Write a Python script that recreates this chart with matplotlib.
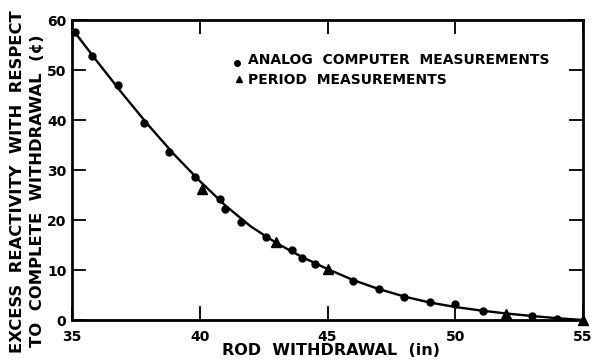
import matplotlib
matplotlib.use("Agg")
import matplotlib.pyplot as plt

# Analog computer measurements (dots)
analog_x = [35.1, 35.8, 36.8, 37.8, 38.8, 39.8, 40.8, 41.0, 41.6, 42.6, 43.6, 44.0,
            44.5, 46.0, 47.0, 48.0, 49.0, 50.0, 51.1, 53.0, 54.0]
analog_y = [57.6, 52.9, 47.1, 39.5, 33.7, 28.7, 24.3, 22.3, 19.7, 16.7, 14.1, 12.5,
            11.2, 7.9, 6.3, 4.7, 3.7, 3.3, 1.9, 0.9, 0.3]

# Period measurements (triangles)
period_x = [40.1, 43.0, 45.0, 52.0, 55.0]
period_y = [26.3, 15.7, 10.2, 1.3, 0.0]

# Fitted curve
curve_x = [35.1, 36, 37, 38, 39, 40, 41, 42, 43, 44, 45, 46, 47, 48, 49, 50, 51, 52, 53, 54, 55]
curve_y = [57.6, 51.6, 45.1, 38.9, 33.1, 27.8, 22.9, 18.7, 15.4, 12.6, 10.2, 8.0, 6.2,
           4.7, 3.5, 2.6, 1.9, 1.3, 0.8, 0.35, 0.0]

xticks = [35, 40, 45, 50, 55]
yticks = [0, 10, 20, 30, 40, 50, 60]

fig = plt.figure(figsize=(5.92, 3.61), dpi=100)
ax = fig.add_axes([72/592, 1-320/361, (583-72)/592, 300/361])

ax.plot(curve_x, curve_y, color="black", lw=1.7, zorder=2)
ax.plot(analog_x, analog_y, "o", color="black", ms=5, zorder=3)
ax.plot(period_x, period_y, "^", color="black", ms=6.5, zorder=3, clip_on=False)

ax.set_xlim(35, 55)
ax.set_ylim(0, 60)
ax.set_xticks(xticks)
ax.set_yticks(yticks)
ax.set_xticklabels([str(t) for t in xticks], fontsize=10, fontweight="bold")
ax.set_yticklabels([str(t) for t in yticks], fontsize=10, fontweight="bold")
ax.tick_params(axis="both", direction="in", length=10, width=1.3, top=True, right=True)
ax.tick_params(axis="x", pad=7)
ax.tick_params(axis="y", pad=4)
for s in ax.spines.values():
    s.set_linewidth(2)

ax.set_xlabel("ROD  WITHDRAWAL  (in)", fontsize=11.5, fontweight="bold")
ax.xaxis.set_label_coords((331-72)/511, -23/300)
fig.text(18/592, 1-182/361, "EXCESS  REACTIVITY  WITH  RESPECT", rotation=90,
         ha="center", va="center", fontsize=11.8, fontweight="bold")
fig.text(38/592, 1-191/361, "TO  COMPLETE  WITHDRAWAL  (\u00a2)", rotation=90,
         ha="center", va="center", fontsize=11.8, fontweight="bold")

# legend
ax.plot([41.46], [51.4], "o", color="black", ms=4, clip_on=False)
ax.plot([41.55], [48.2], "^", color="black", ms=5, clip_on=False)
ax.text(41.9, 52.0, "ANALOG  COMPUTER  MEASUREMENTS", fontsize=10, fontweight="bold",
        va="center", ha="left")
ax.text(41.9, 48.0, "PERIOD  MEASUREMENTS", fontsize=10, fontweight="bold",
        va="center", ha="left")

fig.savefig("out.png", dpi=100)
